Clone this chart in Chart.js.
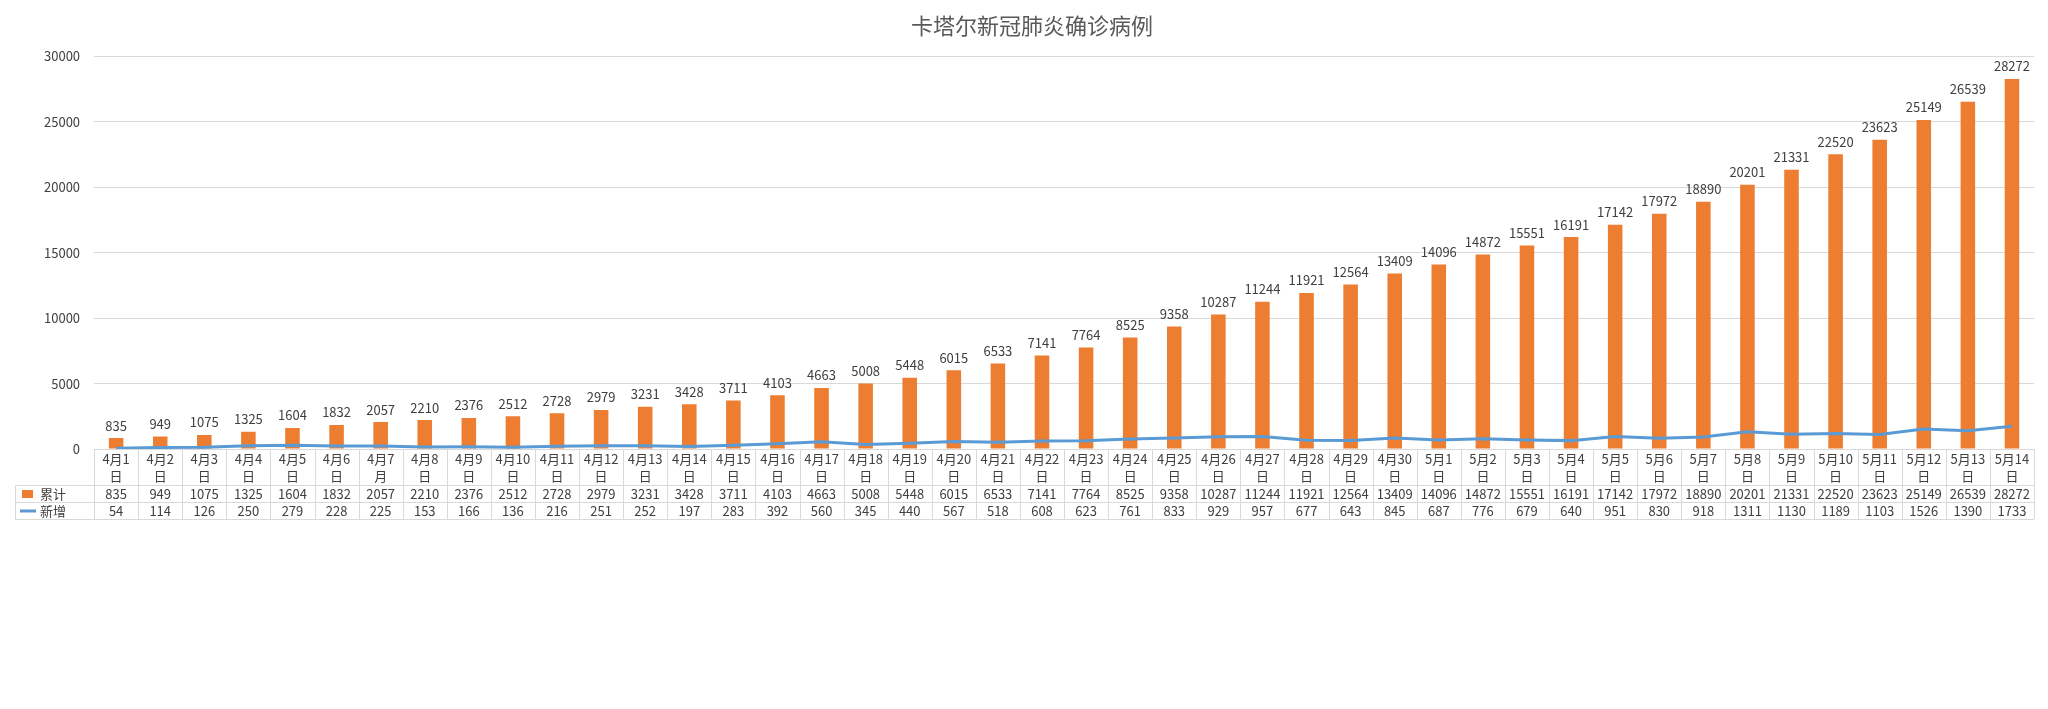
<!DOCTYPE html>
<html><head><meta charset="utf-8">
<script src="https://cdn.jsdelivr.net/npm/chart.js@4"></script>
<style>html,body{margin:0;padding:0;background:#fff}#wrap{width:2048px;height:709px}</style>
</head><body><div id="wrap"><canvas id="c" width="2048" height="709"></canvas></div>
<script>
const days = ['4月1日','4月2日','4月3日','4月4日','4月5日','4月6日','4月7月','4月8日','4月9日','4月10日','4月11日','4月12日','4月13日','4月14日','4月15日','4月16日','4月17日','4月18日','4月19日','4月20日','4月21日','4月22日','4月23日','4月24日','4月25日','4月26日','4月27日','4月28日','4月29日','4月30日','5月1日','5月2日','5月3日','5月4日','5月5日','5月6日','5月7日','5月8日','5月9日','5月10日','5月11日','5月12日','5月13日','5月14日'];
const total = [835,949,1075,1325,1604,1832,2057,2210,2376,2512,2728,2979,3231,3428,3711,4103,4663,5008,5448,6015,6533,7141,7764,8525,9358,10287,11244,11921,12564,13409,14096,14872,15551,16191,17142,17972,18890,20201,21331,22520,23623,25149,26539,28272];
const added = [54,114,126,250,279,228,225,153,166,136,216,251,252,197,283,392,560,345,440,567,518,608,623,761,833,929,957,677,643,845,687,776,679,640,951,830,918,1311,1130,1189,1103,1526,1390,1733];

const FONT = '"Noto Sans CJK SC", "Noto Sans", sans-serif';
const BAR = '#ed7d31', LINE = '#5b9bd5', GRID = '#d9d9d9', TXT = '#404040';

// Value labels above bars
const barLabels = {
  id: 'barLabels',
  afterDatasetsDraw(chart) {
    const ctx = chart.ctx, meta = chart.getDatasetMeta(0);
    ctx.save();
    ctx.font = '13px ' + FONT; ctx.fillStyle = TXT; ctx.textAlign = 'center'; ctx.textBaseline = 'bottom';
    meta.data.forEach((bar, i) => ctx.fillText(total[i], bar.x, bar.y - 6));
    ctx.restore();
  }
};

// Excel-style data table under the plot
const dataTable = {
  id: 'dataTable',
  afterDraw(chart) {
    const ctx = chart.ctx, x = chart.scales.x, area = chart.chartArea;
    const step = x.getPixelForValue(1) - x.getPixelForValue(0);
    const top = area.bottom, labBottom = top + 36, r1 = labBottom + 17, r2 = r1 + 17;
    const left = 15;
    ctx.save();
    ctx.strokeStyle = GRID; ctx.lineWidth = 1;
    ctx.beginPath();
    for (let i = 0; i <= days.length; i++) {
      const px = Math.round(x.getPixelForValue(i) - step / 2) + 0.5;
      ctx.moveTo(px, top); ctx.lineTo(px, r2);
    }
    ctx.moveTo(left + 0.5, labBottom); ctx.lineTo(left + 0.5, r2);
    [labBottom, r1, r2].forEach(y => { ctx.moveTo(left, y + 0.5); ctx.lineTo(area.right, y + 0.5); });
    ctx.stroke();
    ctx.font = '13px ' + FONT; ctx.fillStyle = TXT; ctx.textAlign = 'center'; ctx.textBaseline = 'middle';
    days.forEach((d, i) => {
      const px = x.getPixelForValue(i);
      ctx.fillText(d.slice(0, -1), px, top + 10);
      ctx.fillText(d.slice(-1), px, top + 27);
      ctx.fillText(total[i], px, labBottom + 9);
      ctx.fillText(added[i], px, r1 + 9);
    });
    // legend keys
    ctx.textAlign = 'left';
    ctx.fillStyle = BAR; ctx.fillRect(22, labBottom + 5, 11, 8);
    ctx.fillStyle = TXT; ctx.fillText('累计', 40, labBottom + 9);
    ctx.strokeStyle = LINE; ctx.lineWidth = 3;
    ctx.beginPath(); ctx.moveTo(20, r1 + 9); ctx.lineTo(36, r1 + 9); ctx.stroke();
    ctx.fillText('新增', 40, r1 + 9);
    ctx.restore();
  }
};

new Chart(document.getElementById('c'), {
  data: {
    labels: days,
    datasets: [
      { type: 'bar', label: '累计', data: total, backgroundColor: BAR, categoryPercentage: 1, barPercentage: 0.33, order: 2 },
      { type: 'line', label: '新增', data: added, borderColor: LINE, borderWidth: 3, pointRadius: 0, tension: 0, order: 1 }
    ]
  },
  options: {
    responsive: false, animation: false,
    layout: { padding: { left: 30, right: 14, top: 0, bottom: 260 } },
    plugins: {
      legend: { display: false }, tooltip: { enabled: false },
      title: { display: true, text: '卡塔尔新冠肺炎确诊病例', color: '#595959', font: { family: FONT, size: 22, weight: 'normal' }, padding: { top: 12, bottom: 18 } }
    },
    scales: {
      x: { display: false, offset: true },
      y: {
        min: 0, max: 30000,
        ticks: { stepSize: 5000, color: TXT, font: { family: FONT, size: 13 }, padding: 14, callback: v => String(v) },
        grid: { color: GRID, drawTicks: false }, border: { display: false }
      }
    }
  },
  plugins: [barLabels, dataTable]
});
</script></body></html>
